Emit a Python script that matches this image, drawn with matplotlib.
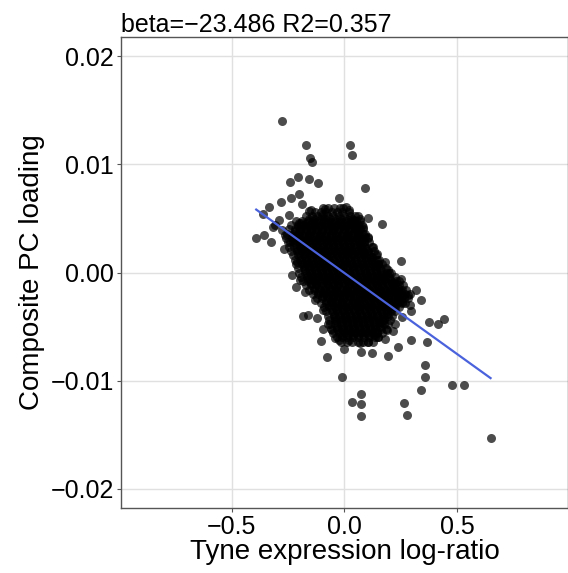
import matplotlib
matplotlib.use("Agg")
import matplotlib.pyplot as plt
import numpy as np

plt.rcParams['font.family'] = ['Liberation Sans', 'DejaVu Sans']

# scattered genes outside the dense cloud
out_x = [-0.276, -0.169, 0.025, 0.034, -0.154, -0.144, -0.241, -0.204, -0.159, -0.118,
         0.091, -0.238, -0.201, -0.281, -0.188, -0.024, -0.335, -0.362, -0.246, -0.159,
         0.165, -0.391, -0.356, -0.325, -0.316, -0.269, 0.250, 0.251, 0.315, 0.341,
         0.293, 0.375, 0.412, 0.440, 0.296, 0.366, 0.237, 0.193, 0.357, 0.356,
         0.338, 0.475, 0.529, 0.647, 0.263, 0.275, 0.072, 0.034, 0.075, 0.072,
         -0.012, -0.076, 0.000, 0.071, 0.121, -0.103, -0.185, -0.162, -0.122, -0.132,
         -0.213, -0.232, -0.210, -0.093, -0.056, -0.041, 0.179, 0.213, 0.106, 0.069,
         0.091, 0.006, -0.085, -0.150, 0.199, 0.150, 0.290, -0.203, -0.276, -0.218]
out_y = [0.01404, 0.01185, 0.01179, 0.01090, 0.01062, 0.01022, 0.00836, 0.00886, 0.00867, 0.00830,
         0.00781, 0.00694, 0.00731, 0.00657, 0.00630, 0.00688, 0.00602, 0.00540, 0.00534, 0.00571,
         0.00451, 0.00318, 0.00349, 0.00281, 0.00417, 0.00216, 0.00108, -0.00062, -0.00164, -0.00259,
         -0.00352, -0.00460, -0.00478, -0.00429, -0.00627, -0.00639, -0.00691, -0.00775, -0.00852, -0.00969,
         -0.01090, -0.01040, -0.01040, -0.01531, -0.01207, -0.01321, -0.01120, -0.01198, -0.01219, -0.01327,
         -0.00963, -0.00784, -0.00710, -0.00738, -0.00741, -0.00630, -0.00398, -0.00389, -0.00423, -0.00253,
         -0.00136, -0.00025, 0.00099, -0.00349, -0.00534, -0.00605, -0.00611, -0.00540, 0.00509, 0.00494,
         0.00330, 0.00602, 0.00590, 0.00577, -0.00009, 0.00077, -0.00302, 0.00454, 0.00392, 0.00330]

# genes on the rim of the cloud
rim_x = [-0.196, -0.174, -0.071, -0.093, -0.026, 0.018, 0.069, 0.106, 0.150, 0.187,
         0.224, 0.253, 0.194, 0.224, 0.282, 0.253, -0.093, 0.018, 0.040, 0.084,
         0.106, 0.128, 0.143, 0.179, 0.121, -0.306, -0.291, -0.262, -0.240]
rim_y = [-0.00071, -0.00179, -0.00472, -0.00519, -0.00627, -0.00627, -0.00657, -0.00642, -0.00596, -0.00534,
         -0.00472, -0.00410, 0.00022, -0.00102, -0.00210, -0.00272, 0.00546, 0.00577, 0.00485, 0.00423,
         0.00330, 0.00238, 0.00176, 0.00099, 0.00145, 0.00438, 0.00485, 0.00346, 0.00284]

# dense cloud, one list of log-ratios per loading level
core_y = [0.0060, 0.0056, 0.0052, 0.0048, 0.0044, 0.0040, 0.0036, 0.0032, 0.0028, 0.0024,
          0.0020, 0.0016, 0.0012, 0.0008, 0.0004, 0.0000, -0.0004, -0.0008, -0.0012, -0.0016,
          -0.0020, -0.0024, -0.0028, -0.0032, -0.0036, -0.0040, -0.0044, -0.0048, -0.0052, -0.0056,
          -0.0060, -0.0064]
core_x = [
    [-0.095, -0.071, -0.045, -0.022, -0.005],
    [-0.130, -0.104, -0.081, -0.057, -0.031, -0.009, 0.020],
    [-0.170, -0.146, -0.121, -0.098, -0.073, -0.049, -0.026, -0.001, 0.024, 0.046, 0.060],
    [-0.215, -0.190, -0.163, -0.140, -0.116, -0.091, -0.068, -0.043, -0.019, 0.006, 0.030, 0.052, 0.070],
    [-0.235, -0.208, -0.184, -0.159, -0.135, -0.110, -0.087, -0.062, -0.038, -0.013, 0.011, 0.036, 0.058, 0.076],
    [-0.245, -0.221, -0.196, -0.172, -0.147, -0.124, -0.099, -0.075, -0.050, -0.027, -0.002, 0.022, 0.047, 0.068, 0.082],
    [-0.255, -0.230, -0.207, -0.182, -0.158, -0.133, -0.110, -0.085, -0.061, -0.037, -0.013, 0.012, 0.035, 0.060, 0.080, 0.092],
    [-0.258, -0.234, -0.211, -0.186, -0.162, -0.138, -0.114, -0.090, -0.066, -0.041, -0.018, 0.007, 0.030, 0.054, 0.079, 0.102],
    [-0.252, -0.227, -0.203, -0.180, -0.155, -0.131, -0.107, -0.083, -0.058, -0.035, -0.010, 0.014, 0.038, 0.063, 0.086, 0.110],
    [-0.245, -0.222, -0.197, -0.173, -0.149, -0.125, -0.101, -0.076, -0.052, -0.029, -0.004, 0.020, 0.044, 0.068, 0.093, 0.120],
    [-0.236, -0.212, -0.188, -0.163, -0.140, -0.116, -0.091, -0.067, -0.043, -0.019, 0.005, 0.029, 0.054, 0.078, 0.102, 0.130],
    [-0.228, -0.205, -0.180, -0.156, -0.132, -0.107, -0.084, -0.060, -0.035, -0.011, 0.013, 0.037, 0.062, 0.086, 0.110, 0.140],
    [-0.220, -0.195, -0.171, -0.147, -0.123, -0.099, -0.075, -0.050, -0.026, -0.002, 0.022, 0.046, 0.071, 0.095, 0.119, 0.143, 0.152],
    [-0.213, -0.189, -0.165, -0.141, -0.116, -0.092, -0.068, -0.044, -0.020, 0.004, 0.029, 0.053, 0.077, 0.101, 0.125, 0.149, 0.168],
    [-0.206, -0.181, -0.157, -0.133, -0.109, -0.085, -0.060, -0.036, -0.012, 0.012, 0.036, 0.061, 0.085, 0.109, 0.133, 0.158, 0.185],
    [-0.200, -0.176, -0.151, -0.127, -0.103, -0.079, -0.055, -0.030, -0.006, 0.018, 0.042, 0.067, 0.091, 0.115, 0.139, 0.163, 0.188, 0.205],
    [-0.193, -0.168, -0.144, -0.120, -0.096, -0.072, -0.047, -0.023, 0.001, 0.025, 0.049, 0.074, 0.098, 0.122, 0.146, 0.171, 0.196, 0.222],
    [-0.185, -0.160, -0.136, -0.112, -0.088, -0.063, -0.039, -0.015, 0.009, 0.034, 0.058, 0.082, 0.106, 0.131, 0.155, 0.179, 0.204, 0.228, 0.240],
    [-0.172, -0.148, -0.124, -0.100, -0.075, -0.051, -0.027, -0.003, 0.022, 0.046, 0.070, 0.094, 0.119, 0.143, 0.167, 0.191, 0.216, 0.240, 0.260],
    [-0.158, -0.134, -0.110, -0.085, -0.061, -0.037, -0.013, 0.012, 0.036, 0.060, 0.084, 0.109, 0.133, 0.157, 0.181, 0.206, 0.230, 0.254, 0.274],
    [-0.140, -0.116, -0.092, -0.067, -0.043, -0.019, 0.005, 0.030, 0.054, 0.078, 0.102, 0.127, 0.151, 0.175, 0.199, 0.224, 0.248, 0.270, 0.288],
    [-0.122, -0.098, -0.074, -0.049, -0.025, -0.001, 0.023, 0.048, 0.072, 0.096, 0.120, 0.145, 0.169, 0.193, 0.217, 0.242, 0.264, 0.282],
    [-0.106, -0.082, -0.057, -0.033, -0.009, 0.015, 0.040, 0.064, 0.088, 0.112, 0.137, 0.161, 0.185, 0.209, 0.234, 0.254, 0.268],
    [-0.092, -0.068, -0.043, -0.019, 0.005, 0.029, 0.054, 0.078, 0.102, 0.126, 0.151, 0.175, 0.199, 0.222, 0.242],
    [-0.080, -0.056, -0.031, -0.007, 0.017, 0.041, 0.066, 0.090, 0.114, 0.138, 0.163, 0.187, 0.208, 0.225],
    [-0.072, -0.048, -0.023, 0.001, 0.025, 0.049, 0.074, 0.098, 0.122, 0.146, 0.171, 0.193, 0.212],
    [-0.068, -0.043, -0.019, 0.005, 0.029, 0.054, 0.078, 0.102, 0.126, 0.151, 0.175, 0.200],
    [-0.064, -0.040, -0.015, 0.009, 0.033, 0.057, 0.082, 0.106, 0.130, 0.154, 0.176, 0.192],
    [-0.058, -0.034, -0.009, 0.015, 0.039, 0.063, 0.088, 0.112, 0.136, 0.160, 0.182],
    [-0.050, -0.026, -0.001, 0.023, 0.047, 0.071, 0.096, 0.120, 0.144, 0.168],
    [-0.035, -0.011, 0.013, 0.038, 0.062, 0.086, 0.110, 0.135, 0.150],
    [-0.015, 0.009, 0.034, 0.058, 0.082, 0.106, 0.125],
]

# the most crowded part of the cloud, between the levels above
inner_y = [0.0050, 0.0046, 0.0042, 0.0038, 0.0034, 0.0030, 0.0026, 0.0022, 0.0018, 0.0014,
           0.0010, 0.0006, 0.0002, -0.0002, -0.0006, -0.0010, -0.0014, -0.0018, -0.0022, -0.0026,
           -0.0030, -0.0034, -0.0038, -0.0042, -0.0046, -0.0050, -0.0054, -0.0058]
inner_x = [
    [-0.158, -0.134, -0.110, -0.086, -0.062, -0.038, -0.014, 0.010, 0.034],
    [-0.193, -0.169, -0.145, -0.121, -0.097, -0.073, -0.049, -0.025, -0.001, 0.023, 0.043],
    [-0.208, -0.184, -0.160, -0.136, -0.112, -0.088, -0.064, -0.040, -0.016, 0.008, 0.032, 0.049],
    [-0.219, -0.195, -0.171, -0.147, -0.123, -0.099, -0.075, -0.051, -0.027, -0.003, 0.021, 0.045, 0.057],
    [-0.224, -0.200, -0.176, -0.152, -0.128, -0.104, -0.080, -0.056, -0.032, -0.008, 0.016, 0.040, 0.064],
    [-0.223, -0.199, -0.175, -0.151, -0.127, -0.103, -0.079, -0.055, -0.031, -0.007, 0.017, 0.041, 0.065, 0.076],
    [-0.217, -0.193, -0.169, -0.145, -0.121, -0.097, -0.073, -0.049, -0.025, -0.001, 0.023, 0.047, 0.071, 0.085],
    [-0.209, -0.185, -0.161, -0.137, -0.113, -0.089, -0.065, -0.041, -0.017, 0.007, 0.031, 0.055, 0.079, 0.095],
    [-0.201, -0.177, -0.153, -0.129, -0.105, -0.081, -0.057, -0.033, -0.009, 0.015, 0.039, 0.063, 0.087, 0.105],
    [-0.193, -0.169, -0.145, -0.121, -0.097, -0.073, -0.049, -0.025, -0.001, 0.023, 0.047, 0.071, 0.095, 0.116],
    [-0.186, -0.162, -0.138, -0.114, -0.090, -0.066, -0.042, -0.018, 0.006, 0.030, 0.054, 0.078, 0.102, 0.126],
    [-0.180, -0.156, -0.132, -0.108, -0.084, -0.060, -0.036, -0.012, 0.012, 0.036, 0.060, 0.084, 0.108, 0.132, 0.146],
    [-0.173, -0.149, -0.125, -0.101, -0.077, -0.053, -0.029, -0.005, 0.019, 0.043, 0.067, 0.091, 0.115, 0.139, 0.163],
    [-0.166, -0.142, -0.118, -0.094, -0.070, -0.046, -0.022, 0.002, 0.026, 0.050, 0.074, 0.098, 0.122, 0.146, 0.170, 0.184],
    [-0.159, -0.135, -0.111, -0.087, -0.063, -0.039, -0.015, 0.009, 0.033, 0.057, 0.081, 0.105, 0.129, 0.153, 0.177, 0.201],
    [-0.148, -0.124, -0.100, -0.076, -0.052, -0.028, -0.004, 0.020, 0.044, 0.068, 0.092, 0.116, 0.140, 0.164, 0.188, 0.212, 0.220],
    [-0.135, -0.111, -0.087, -0.063, -0.039, -0.015, 0.009, 0.033, 0.057, 0.081, 0.105, 0.129, 0.153, 0.177, 0.201, 0.225, 0.237],
    [-0.119, -0.095, -0.071, -0.047, -0.023, 0.001, 0.025, 0.049, 0.073, 0.097, 0.121, 0.145, 0.169, 0.193, 0.217, 0.241, 0.251],
    [-0.101, -0.077, -0.053, -0.029, -0.005, 0.019, 0.043, 0.067, 0.091, 0.115, 0.139, 0.163, 0.187, 0.211, 0.235, 0.255],
    [-0.084, -0.060, -0.036, -0.012, 0.012, 0.036, 0.060, 0.084, 0.108, 0.132, 0.156, 0.180, 0.204, 0.228, 0.245],
    [-0.069, -0.045, -0.021, 0.003, 0.027, 0.051, 0.075, 0.099, 0.123, 0.147, 0.171, 0.195, 0.219],
    [-0.056, -0.032, -0.008, 0.016, 0.040, 0.064, 0.088, 0.112, 0.136, 0.160, 0.184, 0.204],
    [-0.046, -0.022, 0.002, 0.026, 0.050, 0.074, 0.098, 0.122, 0.146, 0.170, 0.188],
    [-0.040, -0.016, 0.008, 0.032, 0.056, 0.080, 0.104, 0.128, 0.152, 0.176],
    [-0.036, -0.012, 0.012, 0.036, 0.060, 0.084, 0.108, 0.132, 0.156, 0.166],
    [-0.031, -0.007, 0.017, 0.041, 0.065, 0.089, 0.113, 0.137, 0.157],
    [-0.024, 0.000, 0.024, 0.048, 0.072, 0.096, 0.120, 0.145],
    [-0.012, 0.012, 0.036, 0.060, 0.084, 0.108, 0.129],
]

# lm fit shown in the title
fit_slope = -0.01503
fit_intercept = -0.00005
title_text = "beta=\u221223.486 R2=0.357"

x_ticks = [-0.5, 0.0, 0.5]
x_labels = ['\u22120.5', '0.0', '0.5']
y_ticks = [-0.02, -0.01, 0.0, 0.01, 0.02]
y_labels = ['\u22120.02', '\u22120.01', '0.00', '0.01', '0.02']

xs = list(out_x) + list(rim_x)
ys = list(out_y) + list(rim_y)
for yv, row in list(zip(core_y, core_x)) + list(zip(inner_y, inner_x)):
    xs += row
    ys += [yv] * len(row)
xs = np.array(xs)
ys = np.array(ys)

fig = plt.figure(figsize=(5.68, 5.73), dpi=100)
ax = fig.add_axes([0.213, 0.1134, 0.787, 0.8220])

ax.scatter(xs, ys, s=42, color='black', alpha=0.7, linewidths=0, zorder=3)

line_x = np.array([xs.min(), xs.max()])
ax.plot(line_x, fit_intercept + fit_slope * line_x, color='#4a62dc', lw=1.6, zorder=4)

ax.set_xlim(-0.99, 0.99)
ax.set_ylim(-0.0218, 0.0218)
ax.set_xticks(x_ticks)
ax.set_yticks(y_ticks)
ax.set_xticklabels(x_labels)
ax.set_yticklabels(y_labels)
ax.grid(True, color='#e0e0e0', lw=1.0, zorder=0)
ax.set_axisbelow(True)
for s in ax.spines.values():
    s.set_color('#555555')
    s.set_linewidth(1.0)
ax.tick_params(length=3, width=0.8, color='#555555', labelsize=18, labelcolor='black', pad=2)

ax.set_xlabel("Tyne expression log-ratio", fontsize=20, labelpad=0)
ax.set_ylabel("Composite PC loading", fontsize=20, labelpad=4)
ax.set_title(title_text, loc='left', fontsize=18, pad=3)

fig.savefig("out.png", dpi=100)
